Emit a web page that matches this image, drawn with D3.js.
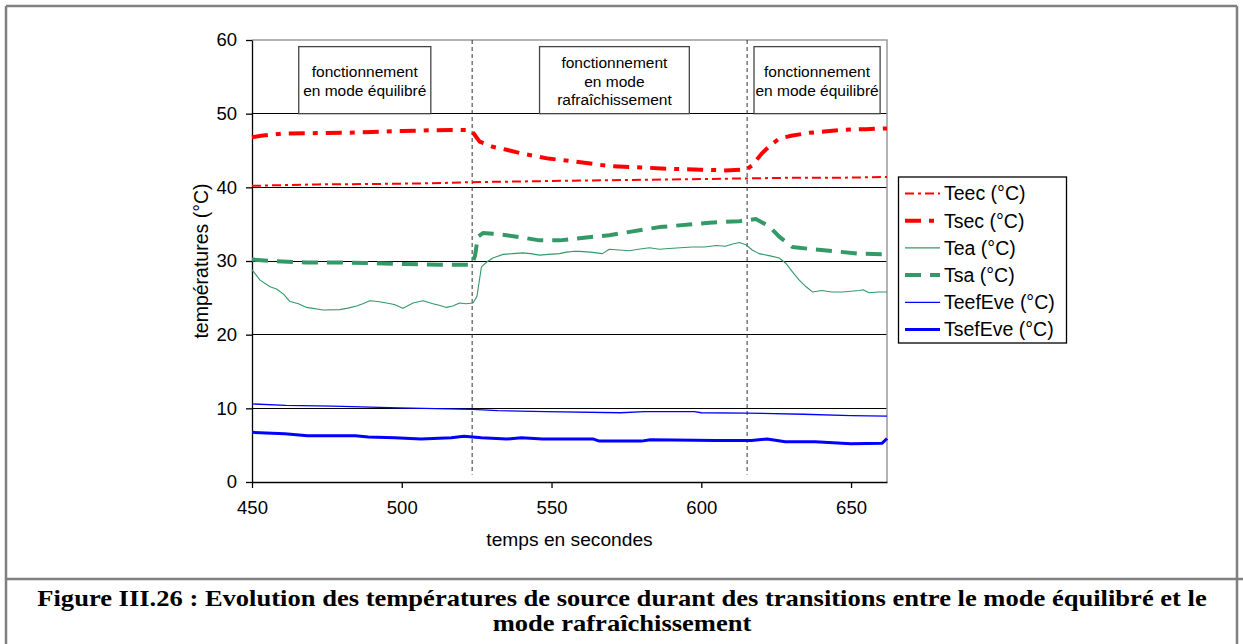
<!DOCTYPE html>
<html><head><meta charset="utf-8">
<script src="https://cdn.jsdelivr.net/npm/d3@7"></script>
<style>html,body{margin:0;padding:0;background:#fff;} svg{display:block;}</style>
</head><body>
<svg id="c" width="1243" height="644"></svg>
<script>
// ---------- data ----------
const xTicks = [450, 500, 550, 600, 650];
const yTicks = [0, 10, 20, 30, 40, 50, 60];
const transitions = [523.5, 615.3];

const teecT = [450, 460, 472, 490, 510, 523, 540, 557, 575, 595, 613, 630, 645, 662];
const teecV = [40.2, 40.3, 40.4, 40.45, 40.55, 40.7, 40.8, 40.9, 41.0, 41.1, 41.2, 41.3, 41.3, 41.4];

const tsecT = [450, 453, 460, 470, 480, 490, 500, 510, 523, 524, 526, 530.4, 535, 540, 549, 558, 569, 580, 590, 600, 608, 615, 617, 620, 623, 626, 630, 636, 642, 647, 655, 662];
const tsecV = [46.8, 47.0, 47.3, 47.35, 47.4, 47.5, 47.65, 47.75, 47.8, 47.3, 46.2, 45.5, 45.1, 44.6, 43.9, 43.5, 42.9, 42.7, 42.5, 42.4, 42.3, 42.4, 43.0, 44.5, 45.7, 46.6, 47.0, 47.4, 47.6, 47.8, 47.9, 48.0];

const teaT = [450, 452.7, 456, 458.2, 460.5, 462.7, 465.5, 468.2, 473.8, 479.3, 482, 484.9, 487, 489.3, 492, 494.9, 497.5, 500.4, 503.8, 507.1, 510.4, 512.5, 514.9, 517, 519.3, 521.5, 523.8, 525.1, 526.6, 528.5, 530.4, 533.8, 537, 540.4, 543, 546, 549, 552.7, 555, 557.1, 559.3, 563, 567, 569.3, 572.5, 576, 579, 582.7, 586, 589.3, 593, 597, 601, 605, 608, 610.5, 612.7, 614.9, 617, 619.3, 623, 626, 628.2, 630.5, 632.7, 635, 637.1, 640.3, 643.5, 647, 650, 652.7, 654, 656, 659, 662];
const teaV = [28.8, 27.4, 26.5, 26.2, 25.5, 24.5, 24.2, 23.7, 23.35, 23.4, 23.6, 23.9, 24.2, 24.6, 24.5, 24.3, 24.1, 23.6, 24.3, 24.6, 24.2, 24.0, 23.7, 23.9, 24.3, 24.2, 24.3, 25.2, 29.2, 29.9, 30.4, 30.9, 31.0, 31.1, 31.0, 30.8, 30.9, 31.0, 31.2, 31.3, 31.3, 31.2, 31.0, 31.6, 31.5, 31.4, 31.6, 31.8, 31.6, 31.7, 31.8, 31.9, 31.9, 32.1, 32.0, 32.3, 32.5, 32.2, 31.5, 31.0, 30.7, 30.4, 29.7, 28.5, 27.4, 26.5, 25.8, 26.0, 25.8, 25.8, 25.9, 26.0, 26.1, 25.7, 25.8, 25.8];

const tsaT = [450, 456, 468, 480, 490.4, 500, 512.7, 523.5, 524.5, 525.4, 527.1, 530.4, 534.9, 540, 546, 552.7, 557, 569.3, 586, 602.7, 612.7, 618.2, 622.7, 626, 630.4, 637.1, 645, 652.7, 662];
const tsaV = [30.2, 30.0, 29.8, 29.8, 29.7, 29.6, 29.5, 29.5, 30.8, 33.3, 33.8, 33.7, 33.5, 33.2, 32.8, 32.8, 33.0, 33.5, 34.6, 35.2, 35.4, 35.7, 34.7, 33.3, 31.9, 31.6, 31.3, 31.0, 30.9];

const teefT = [450, 461.3, 477, 499, 523.7, 532, 548, 573, 581, 597.7, 600, 615, 634, 650, 662];
const teefV = [10.6, 10.4, 10.3, 10.05, 9.86, 9.7, 9.54, 9.4, 9.54, 9.54, 9.4, 9.36, 9.2, 9.0, 8.95];

const tsefT = [450, 460.9, 468.6, 484.5, 488.9, 497.6, 506.4, 516.5, 520.8, 526.6, 535, 540, 547, 564, 566, 580, 583, 605, 616.7, 622, 628, 638, 650, 660.4, 662];
const tsefV = [6.74, 6.56, 6.28, 6.28, 6.1, 6.0, 5.83, 6.0, 6.2, 6.0, 5.83, 6.0, 5.83, 5.83, 5.55, 5.55, 5.73, 5.64, 5.64, 5.83, 5.46, 5.46, 5.18, 5.27, 5.9];

const seriesNames = ["Teec (°C)", "Tsec (°C)", "Tea (°C)", "Tsa (°C)", "TeefEve (°C)", "TsefEve (°C)"];
const boxTexts = [
  ["fonctionnement", "en mode équilibré"],
  ["fonctionnement", "en mode", "rafraîchissement"],
  ["fonctionnement", "en mode équilibré"]
];
const xTitle = "temps en secondes";
const yTitle = "températures (°C)";
const captionLines = [
  "Figure III.26 : Evolution des températures de source durant des transitions entre le mode équilibré et le",
  "mode rafraîchissement"
];

// ---------- styles / layout ----------
const series = [
  {name: seriesNames[0], t: teecT, v: teecV, color: "#ff0000", w: 2,   dash: "9,4,3,4"},
  {name: seriesNames[1], t: tsecT, v: tsecV, color: "#ff0000", w: 4,   dash: "16,8,5,8"},
  {name: seriesNames[2], t: teaT,  v: teaV,  color: "#339966", w: 1.1, dash: null},
  {name: seriesNames[3], t: tsaT,  v: tsaV,  color: "#339966", w: 4,   dash: "16,9"},
  {name: seriesNames[4], t: teefT, v: teefV, color: "#0000ff", w: 1.3, dash: null},
  {name: seriesNames[5], t: tsefT, v: tsefV, color: "#0000ff", w: 3,   dash: null}
];
const boxSpans = [[465.6, 509.7], [546, 596], [617.6, 659.7]];
const boxTopVal = 59.1;
const SANS = "'Liberation Sans', Arial, sans-serif";
const SERIF = "'Liberation Serif', 'Times New Roman', serif";

const svg = d3.select("#c");
const L = 252, R = 887, T = 40, B = 482;
const x = d3.scaleLinear().domain([450, 662]).range([L, R]);
const y = d3.scaleLinear().domain([0, 60]).range([B, T]);

// outer frame
const fr = svg.append("g").attr("stroke", "#808080").attr("stroke-width", 2.5).attr("fill", "none");
fr.append("line").attr("x1", 6).attr("y1", 6).attr("x2", 1237).attr("y2", 6);
fr.append("line").attr("x1", 6).attr("y1", 6).attr("x2", 6).attr("y2", 644);
fr.append("line").attr("x1", 1237).attr("y1", 6).attr("x2", 1237).attr("y2", 644);
fr.append("line").attr("x1", 6).attr("y1", 579).attr("x2", 1243).attr("y2", 579);

// gridlines
svg.append("g").selectAll("line").data(yTicks.filter(d => d > 0 && d < 60)).join("line")
  .attr("x1", L).attr("x2", R).attr("y1", d => y(d)).attr("y2", d => y(d))
  .attr("stroke", "#000").attr("stroke-width", 1).attr("shape-rendering", "crispEdges");
// plot border top/right
svg.append("path").attr("d", `M${L},${y(60)}H${R}V${B}`).attr("fill", "none")
  .attr("stroke", "#9a9a9a").attr("stroke-width", 1.5);

// axes
const yAx = svg.append("g").attr("transform", `translate(${L},0)`)
  .call(d3.axisLeft(y).tickValues(yTicks).tickSize(6).tickPadding(9).tickSizeOuter(0));
const xAx = svg.append("g").attr("transform", `translate(0,${B})`)
  .call(d3.axisBottom(x).tickValues(xTicks).tickSize(6).tickPadding(13).tickSizeOuter(0));
[yAx, xAx].forEach(a => {
  a.selectAll("path,line").attr("stroke", "#000").attr("stroke-width", 1.3);
  a.selectAll("text").attr("font-family", SANS).attr("font-size", 18.5).attr("fill", "#000");
});

// transition lines
svg.append("g").selectAll("line").data(transitions).join("line")
  .attr("x1", d => x(d)).attr("x2", d => x(d)).attr("y1", y(60)).attr("y2", y(1))
  .attr("stroke", "#333").attr("stroke-width", 1).attr("stroke-dasharray", "4,3");

// annotation boxes
boxTexts.forEach((lines, i) => {
  const x0 = x(boxSpans[i][0]), x1 = x(boxSpans[i][1]);
  const y0 = y(boxTopVal), y1 = y(50);
  const g = svg.append("g");
  g.append("rect").attr("x", x0).attr("y", y0).attr("width", x1 - x0).attr("height", y1 - y0)
    .attr("fill", "#fff").attr("stroke", "#444").attr("stroke-width", 1.3);
  const lh = 18.5, cy = (y0 + y1) / 2 + 1;
  const start = cy - (lines.length - 1) * lh / 2;
  lines.forEach((s, j) => {
    g.append("text").attr("x", (x0 + x1) / 2).attr("y", start + j * lh).attr("dy", "0.35em")
      .attr("text-anchor", "middle").attr("font-family", SANS).attr("font-size", 15.5).text(s);
  });
});

// series lines
const line = d3.line().x(d => x(d[0])).y(d => y(d[1]));
series.forEach(s => {
  svg.append("path").datum(s.t.map((t, i) => [t, s.v[i]]))
    .attr("d", line).attr("fill", "none").attr("stroke", s.color).attr("stroke-width", s.w)
    .attr("stroke-dasharray", s.dash).attr("stroke-linejoin", "round");
});

// axis titles
svg.append("text").attr("x", (L + R) / 2).attr("y", 546).attr("text-anchor", "middle")
  .attr("font-family", SANS).attr("font-size", 19.2).text(xTitle);
svg.append("text").attr("transform", `translate(208,${(T + B) / 2}) rotate(-90)`).attr("text-anchor", "middle")
  .attr("font-family", SANS).attr("font-size", 19.5).text(yTitle);

// legend
const lg = svg.append("g");
lg.append("rect").attr("x", 898.5).attr("y", 177).attr("width", 168).attr("height", 166)
  .attr("fill", "#fff").attr("stroke", "#000").attr("stroke-width", 1.3);
series.forEach((s, i) => {
  const yy = 193.5 + i * 27.2;
  lg.append("line").attr("x1", 905).attr("x2", 940).attr("y1", yy).attr("y2", yy)
    .attr("stroke", s.color).attr("stroke-width", s.w).attr("stroke-dasharray", s.dash);
  lg.append("text").attr("x", 944).attr("y", yy).attr("dy", "0.35em")
    .attr("font-family", SANS).attr("font-size", 19.5).text(s.name);
});

// caption
const cap = svg.append("g").attr("font-family", SERIF).attr("font-weight", "bold").attr("font-size", 23);
const capY = [606, 631];
const capTexts = captionLines.map((s, i) =>
  cap.append("text").attr("text-anchor", "middle").attr("x", 0).attr("y", 0).text(s));
const w1 = capTexts[0].node().getComputedTextLength();
const sx = 1170 / w1;
capTexts.forEach((t, i) => t.attr("transform", `translate(622,${capY[i]}) scale(${sx},1)`));
</script>
</body></html>
